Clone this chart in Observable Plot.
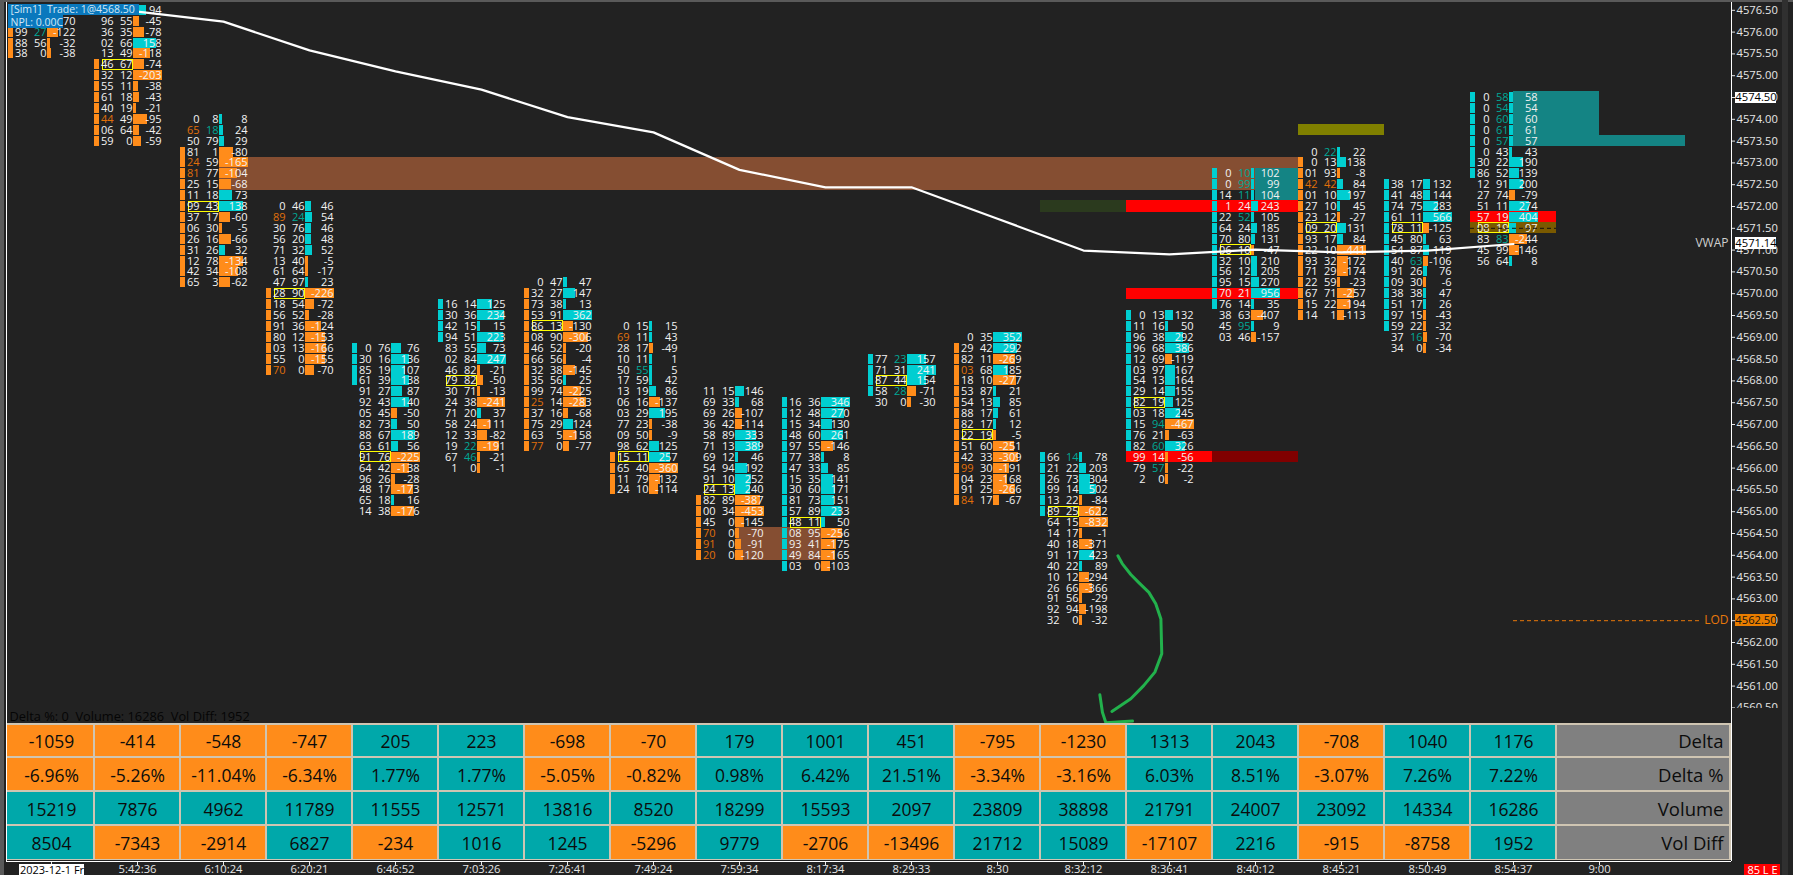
<!DOCTYPE html>
<html><head><meta charset="utf-8">
<style>html,body{margin:0;padding:0;background:#222;overflow:hidden}svg{display:block}</style>
<script src="https://cdn.jsdelivr.net/npm/d3@7"></script>
<script src="https://cdn.jsdelivr.net/npm/@observablehq/plot@0.6"></script>
</head><body><div id="chart"></div>
<script>
// ---- chart values: each row is "sell buy delta" (o / t suffix = orange / teal number)
const timeLabels=["2023-12-1 Fr","5:42:36","6:10:24","6:20:21","6:46:52","7:03:26","7:26:41","7:49:24","7:59:34","8:17:34","8:29:33","8:30","8:32:12","8:36:41","8:40:12","8:45:21","8:50:49","8:54:37","9:00"];
const topPrice=[4576.25,4576.5,4574,4572,4568.75,4569.75,4570.25,4569.25,4567.75,4567.5,4568.5,4569,4566.25,4569.5,4572.75,4573.25,4572.5,4574.5];
const col00=[". . -70","99 27t -122","88 56 -32","38 0 -38"];
const col01=[". . 94","96 55 -45","36 35 -78","02 66 158","13 49 -118","46 67 -74","32 12 -203","55 11 -38","61 18 -43","40 19 -21","44o 49 -95","06 64 -42","59 0 -59"];
const col02=["0 8 8","65o 18t 24","50 79 29","81 1 -80","24o 59 -165","81o 77 -104","25 15 -68","11 18 73","99 43 138","37 17 -60","06 30 -5","26 16 -66","31 26 32","12 78 -134","42 34 -108","65 3 -62"];
const col03=["0 46 46","89o 24t 54","30 76 46","56 20 48","71 32 52","13 40 -5","61 64 -17","47 97 23","28 90 -226","18 54 -72","56 52 -28","91 36 -124","80 12 -153","03 13 -166","55 0 -155","70o 0 -70"];
const col04=["0 76 76","30 16 136","85 19 107","61 39 138","91 27 87","92 43 140","05 45 -50","82 73 50","88 67 189","63 61 56","91 76 -225","64 42 -138","96 26 -28","48 17 -173","65 18 16","14 38 -176"];
const col05=["16 14 125","30 36 234","42 15 15","94 51 223","83 55 73","02 84 247","46 82 -21","79 82 -50","30 71 -13","24 38 -241","71 20 37","58 24 -111","12 33 -82","19 22t -191","67 46t -21","1 0 -1"];
const col06=["0 47 47","32 27 147","73 38 13","53 91 362","86 13 -130","08 90 -306","46 52 -20","66 56 -4","32 38 -145","35 56 25","99 74 -225","25o 14 -283","37 16 -68","75 29 124","63 5 -158","77o 0 -77"];
const col07=["0 15 15","69o 11 43","28 17 -49","10 11 1","50 55t 5","17 59 42","13 19 86","06 16 -137","03 29 195","77 23 -38","09 50 -9","98 62 125","15 11 257","65 40 -360","11 79 -132","24 10 -114"];
const col08=["11 15 146","69 33 68","69 26 -107","36 42 -114","58 89 333","71 13 389","69 12 46","54 94 192","91 10 252","24 13 240","82 89 -387","00 34 -453","45 0 -145","70o 0 -70","91o 0 -91","20o 0 -120"];
const col09=["16 36 346","12 48 270","15 34 130","48 60 261","97 55 -146","77 38 8","47 33 85","15 35 141","30 60 171","81 73 151","57 89 233","48 11 50","08 95 -256","93 41 -175","49 84 -165","03 0 -103"];
const col10=["77 23t 157","71 31 241","87 44 154","58 28t -71","30 0 -30"];
const col11=["0 35 352","29 42 292","82 11 -269","03o 68 185","18 10 -277","53 87 21","54 13 85","88 17 61","82 17 12","22 19 -5","51 60 -251","42 33 -309","99o 30 -191","04 23 -168","91 25 -266","84o 17 -67"];
const col12=["66 14t 78","21 22 203","26 73 304","99 14 502","13 22 -84","89 25 -622","64 15 -832","14 17 -1","40 18 -371","91 17 423","40 22 89","10 12 -294","26 66 -366","91 56 -29","92 94 -198","32 0 -32"];
const col13=["0 13 132","11 16 50","96 38 292","96 68 386","12 69 -119","03 97 167","54 13 164","29 14 155","82 19 125","03 18 245","15 94t -467","76 21 -63","82 60t 326","99 14 -56","79 57t -22","2 0 -2"];
const col14=["0 10t 102","0 99t 99","14 11t 104","1 24 243","22 52t 105","64 24 185","70 80 131","06 10 -47","32 10 210","56 12 205","95 15 270","70 21 956","76 14 35","38 63 -407","45 95t 9","03 46 -157"];
const col15=["0 22t 22","0 13 138","01 93 -8","42o 42o 84","01 10 197","27 10 45","23 12 -27","09 20 131","93 17 84","22 10 -441","93 32 -172","71 29 -174","22 59 -23","67 71 -257","15 22 -194","14 1 -113"];
const col16=["38 17 132","41 48 144","74 75 283","61 11 566","78 11 -125","45 80 63","54 87 119","40 63t -106","91 26 76","09 30 -6","38 38 47","51 17 26","97 15 -43","59 22 -32","37 16t -70","34 0 -34"];
const col17=["0 58t 58","0 54t 54","0 60t 60","0 61t 61","0 57t 57","0 43 43","30 22 190","86 52 139","12 91 200","27 74 -79","51 11 274","57 19 404","08 19 97","83 83t -244","45 99 -146","56 64 8"];
const columns=[col00,col01,col02,col03,col04,col05,col06,col07,col08,col09,col10,col11,col12,col13,col14,col15,col16,col17];
const col00BarMax=313;
const boxRow=[-1,5,8,8,10,7,4,12,9,11,2,9,5,8,7,7,4,12];
const markFirst=[0,5,3,8,0,0,1,12,10,0,0,1,0,0,0,1,0,0];
const markLast=[3,12,15,15,3,3,15,15,15,15,3,15,5,12,12,15,13,7];
const markSign=["o","o","o","o","c","c","o","o","o","c","c","o","c","c","c","o","c","c"];
const deltaRow=[-1059,-414,-548,-747,205,223,-698,-70,179,1001,451,-795,-1230,1313,2043,-708,1040,1176];
const deltaPctRow=["-6.96%","-5.26%","-11.04%","-6.34%","1.77%","1.77%","-5.05%","-0.82%","0.98%","6.42%","21.51%","-3.34%","-3.16%","6.03%","8.51%","-3.07%","7.26%","7.22%"];
const volumeRow=[15219,7876,4962,11789,11555,12571,13816,8520,18299,15593,2097,23809,38898,21791,24007,23092,14334,16286];
const volDiffRow=[8504,-7343,-2914,6827,-234,1016,1245,-5296,9779,-2706,-13496,21712,15089,-17107,2216,-915,-8758,1952];
const tableLabels=["Delta","Delta %","Volume","Vol Diff"];
const vwapCol=[1,2,3,4,5,6,7,8,9,10,11,12,13,14,15,16,17];
const vwapPrice=[4576.47,4576.24,4575.58,4575.10,4574.68,4574.05,4573.70,4572.84,4572.44,4572.44,4571.72,4570.99,4570.90,4571.01,4570.95,4570.99,4571.14];
// zones: [from column, to column, top price, bottom price, colour]
const zones=[
 [1.953,14.5,4573,4572.5,"#854e32"],
 [14,14.5,4572.75,4572.25,"#148484"],
 [11.5,12.5,4572,4572,"#2b3a1e"],
 [12.5,14.5,4572,4572,"#ff0000"],
 [14.5,15.5,4573.75,4573.75,"#808000"],
 [12.5,14.5,4570,4570,"#ff0000"],
 [12.5,13.5,4566.25,4566.25,"#ff0000"],
 [13.5,14.5,4566.25,4566.25,"#800000"],
 [7.965,8.965,4564.5,4564,"#854e32"],
 [17,18,4574.5,4573.5,"#148484"],
 [18,19,4573.5,4573.5,"#148484"],
 [16.5,17.5,4571.75,4571.75,"#ff0000"],
 [16.5,17.5,4571.5,4571.5,"#7a5a00"]
];
const arrowBody=[[12.40,4563.99],[12.45,4563.81],[12.55,4563.56],[12.64,4563.38],[12.76,4563.15],[12.84,4562.89],[12.90,4562.54],[12.91,4561.74],[12.83,4561.32],[12.70,4561.01],[12.55,4560.71],[12.33,4560.42]];
const arrowHead=[[12.19,4560.80],[12.22,4560.40],[12.26,4560.16],[12.57,4560.20]];

// ---- layout
const W=1793,H=875,colW=86,col0X=51,priceY=97,pxPerPoint=43.6;
const xAt=px=>(px-col0X)/colW, yAt=px=>4574.5-(px-priceY)/pxPerPoint;
const font='"Open Sans","Noto Sans",sans-serif';
const ORANGE="#ff8c1a",CYAN="#00ced1",TEAL="#00a8aa",TXT="#f2f2f2",INK="#0c0c0c";
const half=5/pxPerPoint, tick=.25;

const rows=[];
columns.forEach((col,i)=>{
  const bm=i===0?col00BarMax:d3.max(col,s=>Math.abs(+s.split(" ")[2]));
  col.forEach((s,j)=>{
    const [a,b,c]=s.split(" "),d=+c;
    const tag=t=>t.endsWith("o")?"#e0700a":t.endsWith("t")?"#00a896":TXT;
    const clean=t=>t==="."?"":t.replace(/[ot]$/,"");
    rows.push({i,j,p:topPrice[i]-j*tick,l:clean(a),r:clean(b),dl:c,lc:tag(a),rc:tag(b),d,w:Math.max(3,Math.abs(d)/bm*29),box:boxRow[i]===j,mark:j>=markFirst[i]&&j<=markLast[i],sign:markSign[i]});
  });
});
const zoneData=zones.map(([a,b,t,u,c])=>({a,b,t:t+half+.0115,u:u-half-.0115,c}));
const tableRows=[deltaRow,deltaPctRow,volumeRow,volDiffRow];
const rowTop=[724.5,758,792,826],rowBot=[755.5,789.5,823.5,859],rowMid=[742,776,810,843.5];
const cells=[];
tableRows.forEach((arr,r)=>arr.forEach((v,i)=>{
  const tone=r===2?1:(typeof v==="string"?parseFloat(v):v);
  cells.push({i,r,v:String(v),c:tone<0?ORANGE:TEAL});
}));
const priceTicks=d3.range(4560.5,4576.75,.5);
const R=(data,o)=>Plot.rect(data,{shapeRendering:"crispEdges",...o});
const box=(x1,x2,y1,y2,fill)=>R([0],{x1:xAt(x1),x2:xAt(x2),y1:yAt(y1),y2:yAt(y2),fill});
const tagText=(px,py,text,fill,anchor="start",size=11)=>Plot.text([text],{x:xAt(px),y:yAt(py),text:d=>d,fill,textAnchor:anchor,lineAnchor:"middle",fontSize:size});

const chart=Plot.plot({
  width:W,height:H,marginLeft:6,marginRight:62,marginTop:2,marginBottom:14,
  x:{domain:[xAt(6),xAt(1731)],axis:null},
  y:{domain:[yAt(861),yAt(2)],axis:null},
  color:{type:"identity"},
  style:{background:"#222222",fontFamily:font,fontSize:"11px",color:TXT,overflow:"hidden"},
  marks:[
    // zones
    R(zoneData,{x1:"a",x2:"b",y1:"t",y2:"u",fill:"c"}),
    // side markers and delta bars
    R(rows.filter(d=>d.mark),{x1:d=>d.i-43/colW,x2:d=>d.i-38/colW,y1:d=>d.p+half,y2:d=>d.p-half,fill:d=>d.sign==="o"?ORANGE:CYAN}),
    R(rows,{x1:d=>d.i-4/colW,x2:d=>d.i+(d.w-4)/colW,y1:d=>d.p+half,y2:d=>d.p-half,fill:d=>d.d<0?ORANGE:CYAN}),
    // POC box
    R(rows.filter(d=>d.box),{x1:d=>d.i-35/colW,x2:d=>d.i-5/colW,y1:d=>d.p+half,y2:d=>d.p-half,stroke:"#ffff00",fill:"none",strokeWidth:1}),
    // numbers
    Plot.text(rows,{x:"i",y:"p",text:"l",dx:-24,textAnchor:"end",lineAnchor:"middle",fill:"lc",fontSize:11}),
    Plot.text(rows,{x:"i",y:"p",text:"r",dx:-5,textAnchor:"end",lineAnchor:"middle",fill:"rc",fontSize:11}),
    Plot.text(rows,{x:"i",y:"p",text:"dl",dx:24,textAnchor:"end",lineAnchor:"middle",fill:TXT,fontSize:11}),
    // dashed level inside the last bar
    Plot.ruleY([4571.5],{x1:16.5,x2:17.5,stroke:"#111",strokeDasharray:"4,3",strokeWidth:1}),
    // VWAP
    Plot.line(vwapCol,{x:d=>d,y:(d,k)=>vwapPrice[k],stroke:"#fff",strokeWidth:2.2,curve:"linear"}),
    // LOD
    Plot.ruleY([4562.5],{x1:xAt(1513),x2:xAt(1702),stroke:"#e8780a",strokeDasharray:"4,3",strokeWidth:1}),
    tagText(1728,620,"LOD","#e8780a","end",12),
    // hand-drawn arrow
    Plot.line(arrowBody,{x:"0",y:"1",stroke:"#22b14c",strokeWidth:3,curve:"linear"}),
    Plot.line(arrowHead,{x:"0",y:"1",stroke:"#22b14c",strokeWidth:3,curve:"linear"}),
    // footer text
    tagText(9,716,"Delta %: 0  Volume: 16286  Vol Diff: 1952","#050505","start",12.8),
    // table
    box(6,1731,723,860,"#cfc5b2"),
    R(cells,{x1:d=>d.i===0?xAt(7):d.i-42/colW,x2:d=>d.i+42/colW,y1:d=>yAt(rowTop[d.r]),y2:d=>yAt(rowBot[d.r]),fill:"c"}),
    Plot.text(cells,{x:"i",y:d=>yAt(rowMid[d.r]),text:"v",fill:INK,fontSize:17.5,lineAnchor:"middle"}),
    R(tableLabels,{x1:xAt(1557),x2:xAt(1729),y1:(d,k)=>yAt(rowTop[k]),y2:(d,k)=>yAt(rowBot[k]),fill:"#808080"}),
    Plot.text(tableLabels,{x:xAt(1723),y:(d,k)=>yAt(rowMid[k]),text:d=>d,fill:INK,fontSize:18.5,textAnchor:"end",lineAnchor:"middle"}),
    // axes
    Plot.axisY(priceTicks,{anchor:"right",tickFormat:d=>d.toFixed(2),tickSize:3,tickPadding:2,color:"#e6e6e6",fontSize:11.2,label:null}),
    Plot.axisX(d3.range(timeLabels.length),{anchor:"bottom",tickFormat:i=>timeLabels[i],tickSize:4,tickPadding:0,color:"#e6e6e6",fontSize:11.2,label:null}),
    Plot.ruleX([xAt(1731)],{y1:yAt(2),y2:yAt(861),stroke:"#fff",strokeWidth:1,shapeRendering:"crispEdges"}),
    Plot.ruleX([xAt(6)],{y1:yAt(2),y2:yAt(861),stroke:"#fff",strokeWidth:1,shapeRendering:"crispEdges"}),
    Plot.ruleY([yAt(861)],{x1:xAt(6),x2:xAt(1731),stroke:"#fff",strokeWidth:1,shapeRendering:"crispEdges"}),
    // mask cutting the lowest price label
    box(1732,1781,708,722,"#222222"),
    // date tag
    box(19,84,864,875,"#ffffff"),
    tagText(51.5,870,"2023-12-1 Fr","#000","middle"),
    // price tags
    box(1735,1776,91.5,103,"#ffffff"),
    tagText(1755.5,97,"4574.50","#000","middle",11.2),
    box(1735,1776,237,249,"#ffffff"),
    tagText(1755.5,243,"4571.14","#000","middle",11.2),
    tagText(1728,243,"VWAP","#d0d0d0","end",12),
    box(1735,1776,613.5,626,"#e87d00"),
    tagText(1755.5,620,"4562.50","#111","middle",11.2),
    // connection tag
    box(1744,1780,864,875,"#ff0000"),
    tagText(1762,870,"85 L E","#fff","middle"),
    // window edges
    box(0,3.5,0,875,"#5a5a5a"),
    box(0,1793,0,1.5,"#5a5a5a"),
    box(1782,1788,0,875,"#303030"),
    // trade overlay
    box(8,139,4,15,"#0a78bd"),
    box(8,63,15,28,"#0a78bd"),
    tagText(10,9.5,"[Sim1]  Trade: 1@4568.50","#d4e8f6","start",10.5),
    tagText(10,22,"NPL: 0.00C","#d4e8f6","start",10.5)
  ]
});
document.getElementById("chart").append(chart);
</script></body></html>
